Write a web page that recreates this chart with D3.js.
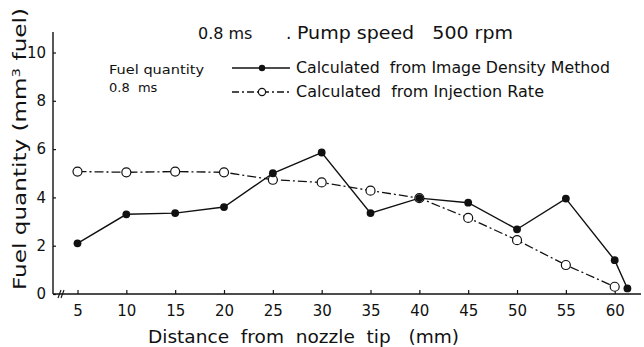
<!DOCTYPE html>
<html>
<head>
<meta charset="utf-8">
<script src="https://cdn.jsdelivr.net/npm/d3@7"></script>
<style>
  body { margin: 0; background: #fff; }
  svg { display: block; }
  text { font-family: "DejaVu Sans", sans-serif; fill: #111; white-space: pre; }
</style>
</head>
<body>
<div id="chart"></div>
<script>
// distance from nozzle tip (mm)
const distance = [5, 10, 15, 20, 25, 30, 35, 40, 45, 50, 55, 60, 61.3];
// fuel quantity (mm3), image density method
const imageDensity = [2.1, 3.3, 3.35, 3.6, 5.0, 5.86, 3.35, 3.97, 3.78, 2.68, 3.95, 1.4, 0.23];
// fuel quantity (mm3), from injection rate
const injDistance = [5, 10, 15, 20, 25, 30, 35, 40, 45, 50, 55, 60];
const injectionRate = [5.07, 5.04, 5.07, 5.04, 4.73, 4.62, 4.28, 3.97, 3.15, 2.23, 1.2, 0.3];

const xTicks = [5, 10, 15, 20, 25, 30, 35, 40, 45, 50, 55, 60];
const yTicks = [0, 2, 4, 6, 8, 10];

const width = 644, height = 347;
const margin = {top: 32, right: 3, bottom: 53, left: 53};

const svg = d3.select("#chart").append("svg")
  .attr("width", width)
  .attr("height", height);

let x = d3.scaleLinear()
  .domain([5, 60])
  .range([77.5, 614.7]);

let y = d3.scaleLinear()
  .domain([0, 10])
  .range([294, 52.5]);

const axisY = y(0);

// x axis: line with a break near the origin
let xAxis = g => g
  .attr("transform", `translate(0, ${axisY})`)
  .call(d3.axisBottom(x).tickValues(xTicks).tickSizeInner(-4).tickSizeOuter(0).tickPadding(8))
  .call(g => g.select(".domain").remove())
  .call(g => g.selectAll(".tick line").attr("stroke", "#111").attr("stroke-width", 1.2))
  .call(g => g.selectAll(".tick text")
    .attr("font-size", "15px").attr("fill", "#111").attr("dy", "0.9em"));

let yAxis = g => g
  .attr("transform", `translate(${margin.left}, 0)`)
  .call(d3.axisLeft(y).tickValues(yTicks).tickSizeInner(-3).tickSizeOuter(0).tickPadding(7))
  .call(g => g.select(".domain").remove())
  .call(g => g.selectAll(".tick line").attr("stroke", "#111").attr("stroke-width", 1.2))
  .call(g => g.selectAll(".tick text").attr("font-size", "15px").attr("fill", "#111"));

svg.append("g").call(xAxis);
svg.append("g").call(yAxis);

// axis lines
svg.append("line")
  .attr("x1", margin.left).attr("x2", margin.left)
  .attr("y1", margin.top).attr("y2", axisY)
  .attr("stroke", "#111").attr("stroke-width", 1.4);
svg.append("line")
  .attr("x1", margin.left).attr("x2", width - margin.right)
  .attr("y1", axisY).attr("y2", axisY)
  .attr("stroke", "#111").attr("stroke-width", 1.6);

// break marks
svg.append("g").selectAll("line")
  .data([0, 3])
  .join("line")
    .attr("x1", d => 58 + d).attr("x2", d => 61 + d)
    .attr("y1", axisY + 4).attr("y2", axisY - 4)
    .attr("stroke", "#111").attr("stroke-width", 1.1);

// series lines
const lineSolid = d3.line()
  .x((d, i) => x(distance[i]))
  .y(d => y(d));

const lineInj = d3.line()
  .x((d, i) => x(injDistance[i]))
  .y(d => y(d));

svg.append("path")
  .datum(injectionRate)
  .attr("fill", "none")
  .attr("stroke", "#111")
  .attr("stroke-width", 1.3)
  .attr("stroke-dasharray", "9,3,2,3")
  .attr("d", lineInj);

svg.append("path")
  .datum(imageDensity)
  .attr("fill", "none")
  .attr("stroke", "#111")
  .attr("stroke-width", 1.4)
  .attr("d", lineSolid);

svg.append("g")
  .selectAll("circle")
  .data(injectionRate)
  .join("circle")
    .attr("cx", (d, i) => x(injDistance[i]))
    .attr("cy", d => y(d))
    .attr("r", 4.5)
    .attr("fill", "#fff")
    .attr("stroke", "#111")
    .attr("stroke-width", 1.2);

svg.append("g")
  .selectAll("circle")
  .data(imageDensity)
  .join("circle")
    .attr("cx", (d, i) => x(distance[i]))
    .attr("cy", d => y(d))
    .attr("r", 3.9)
    .attr("fill", "#111");

// title
svg.append("text")
  .attr("x", 198).attr("y", 39)
  .attr("font-size", "16px")
  .text("0.8 ms");
svg.append("text")
  .attr("x", 286).attr("y", 39)
  .attr("font-size", "17px")
  .text(".");
svg.append("text")
  .attr("x", 297).attr("y", 39)
  .attr("font-size", "17px")
  .attr("textLength", 216)
  .attr("lengthAdjust", "spacingAndGlyphs")
  .text("Pump speed   500 rpm");

// legend
const legend = svg.append("g");
legend.append("line")
  .attr("x1", 232).attr("x2", 290).attr("y1", 68).attr("y2", 68)
  .attr("stroke", "#111").attr("stroke-width", 1.4);
legend.append("circle")
  .attr("cx", 262).attr("cy", 68).attr("r", 3.2).attr("fill", "#111");
legend.append("text")
  .attr("x", 296).attr("y", 73)
  .attr("font-size", "15px")
  .attr("textLength", 314)
  .attr("lengthAdjust", "spacingAndGlyphs")
  .text("Calculated  from Image Density Method");

legend.append("line")
  .attr("x1", 232).attr("x2", 290).attr("y1", 92).attr("y2", 92)
  .attr("stroke", "#111").attr("stroke-width", 1.3)
  .attr("stroke-dasharray", "7,3,2,3");
legend.append("circle")
  .attr("cx", 262).attr("cy", 92).attr("r", 3.6)
  .attr("fill", "#fff").attr("stroke", "#111").attr("stroke-width", 1.2);
legend.append("text")
  .attr("x", 296).attr("y", 97)
  .attr("font-size", "15px")
  .attr("textLength", 248)
  .attr("lengthAdjust", "spacingAndGlyphs")
  .text("Calculated  from Injection Rate");

// note
svg.append("text")
  .attr("x", 109).attr("y", 74)
  .attr("font-size", "13px")
  .attr("textLength", 95)
  .attr("lengthAdjust", "spacingAndGlyphs")
  .text("Fuel quantity");
svg.append("text")
  .attr("x", 109).attr("y", 92)
  .attr("font-size", "13px")
  .text("0.8  ms");

// axis titles
svg.append("text")
  .attr("x", 148).attr("y", 343)
  .attr("font-size", "17px")
  .attr("textLength", 311)
  .attr("lengthAdjust", "spacingAndGlyphs")
  .text("Distance  from  nozzle  tip   (mm)");

const yLabel = svg.append("text")
  .attr("transform", "translate(26, 290) rotate(-90)")
  .attr("font-size", "17px")
  .attr("textLength", 282)
  .attr("lengthAdjust", "spacingAndGlyphs");
yLabel.append("tspan").text("Fuel quantity (mm");
yLabel.append("tspan").attr("dy", -6).attr("font-size", "11px").text("3");
yLabel.append("tspan").attr("dy", 6).text(" fuel)");
</script>
</body>
</html>
